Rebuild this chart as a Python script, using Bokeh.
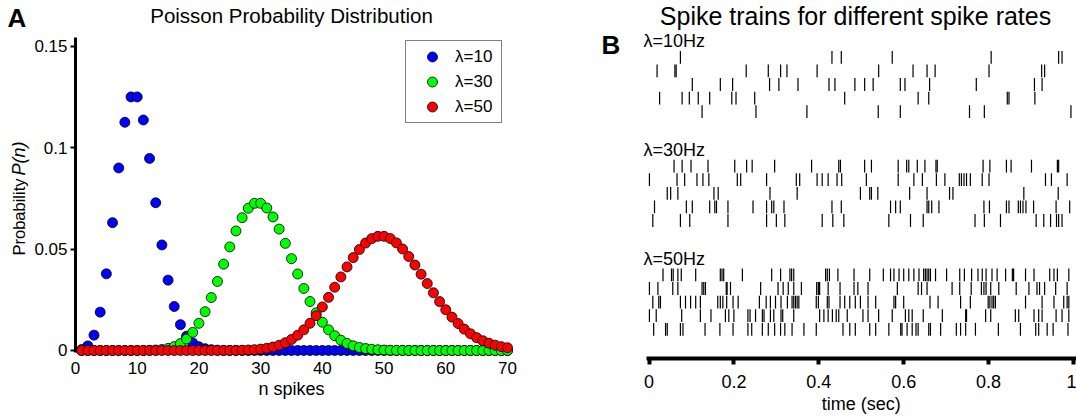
from bokeh.plotting import figure
from bokeh.models import (Range1d, FixedTicker, CustomJSTickFormatter, Label,
                          ColumnDataSource, Legend, LegendItem)
from bokeh.layouts import row
from bokeh.embed import file_html
from bokeh.resources import INLINE

FONT = "Liberation Sans"
INK = "black"

# ---------------- data: Panel A ----------------
n_spikes = list(range(1, 71))
p_lambda10 = [
    0.00045, 0.00227, 0.00757, 0.01892, 0.03783, 0.06306, 0.09008, 0.11260, 0.12511, 0.12511,
    0.11374, 0.09478, 0.07291, 0.05208, 0.03472, 0.02170, 0.01276, 0.00709, 0.00373, 0.00187,
    0.00089, 0.00040, 0.00018, 0.00007, 0.00003, 0.00001, 0.0, 0.0, 0.0, 0.0,
    0.0, 0.0, 0.0, 0.0, 0.0, 0.0, 0.0, 0.0, 0.0, 0.0,
    0.0, 0.0, 0.0, 0.0, 0.0, 0.0, 0.0, 0.0, 0.0, 0.0,
    0.0, 0.0, 0.0, 0.0, 0.0, 0.0, 0.0, 0.0, 0.0, 0.0,
    0.0, 0.0, 0.0, 0.0, 0.0, 0.0, 0.0, 0.0, 0.0, 0.0,
]
p_lambda30 = [
    0.0, 0.0, 0.0, 0.0, 0.0, 0.0, 0.0, 0.0, 0.0, 0.00002,
    0.00004, 0.00011, 0.00024, 0.00051, 0.00103, 0.00193, 0.00340, 0.00566, 0.00894, 0.01341,
    0.01916, 0.02612, 0.03407, 0.04259, 0.05111, 0.05898, 0.06553, 0.07021, 0.07263, 0.07263,
    0.07029, 0.06590, 0.05991, 0.05286, 0.04531, 0.03776, 0.03061, 0.02417, 0.01859, 0.01394,
    0.01020, 0.00729, 0.00508, 0.00347, 0.00231, 0.00151, 0.00096, 0.00060, 0.00037, 0.00022,
    0.00013, 0.00007, 0.00004, 0.00002, 0.00001, 0.0, 0.0, 0.0, 0.0, 0.0,
    0.0, 0.0, 0.0, 0.0, 0.0, 0.0, 0.0, 0.0, 0.0, 0.0,
]
p_lambda50 = [
    0.0, 0.0, 0.0, 0.0, 0.0, 0.0, 0.0, 0.0, 0.0, 0.0,
    0.0, 0.0, 0.0, 0.0, 0.0, 0.0, 0.0, 0.0, 0.0, 0.0,
    0.0, 0.0, 0.0, 0.0, 0.00004, 0.00007, 0.00013, 0.00024, 0.00041, 0.00068,
    0.00109, 0.00171, 0.00259, 0.00381, 0.00544, 0.00755, 0.01020, 0.01342, 0.01720, 0.02150,
    0.02622, 0.03122, 0.03630, 0.04125, 0.04583, 0.04981, 0.05299, 0.05520, 0.05633, 0.05633,
    0.05523, 0.05310, 0.05010, 0.04639, 0.04217, 0.03765, 0.03303, 0.02847, 0.02413, 0.02011,
    0.01648, 0.01329, 0.01055, 0.00824, 0.00634, 0.00480, 0.00358, 0.00263, 0.00191, 0.00136,
]
series_labels = ["λ=10", "λ=30", "λ=50"]
series_colors = ["#0000ff", "#00ff00", "#ff0000"]
x_ticks_A = [0, 10, 20, 30, 40, 50, 60, 70]
y_ticks_A = [0, 0.05, 0.1, 0.15]

# ---------------- data: Panel B (spike times, seconds) ----------------
rate_labels = ["λ=10Hz", "λ=30Hz", "λ=50Hz"]
spikes_10hz = [
    [0.074, 0.431, 0.453, 0.573, 0.806, 0.965, 0.973],
    [0.019, 0.061, 0.064, 0.229, 0.281, 0.310, 0.325, 0.396, 0.541, 0.622, 0.655, 0.674,
     0.801, 0.925, 0.932],
    [0.102, 0.168, 0.197, 0.284, 0.306, 0.351, 0.424, 0.438, 0.485, 0.508, 0.528, 0.592,
     0.603, 0.661, 0.771, 0.908, 0.926],
    [0.025, 0.078, 0.095, 0.116, 0.143, 0.195, 0.205, 0.249, 0.461, 0.634, 0.659, 0.844,
     0.848, 0.909],
    [0.125, 0.252, 0.372, 0.540, 0.592, 0.755, 0.790, 0.994],
]
spikes_30hz = [
    [0.059, 0.078, 0.099, 0.139, 0.202, 0.230, 0.243, 0.296, 0.383, 0.447, 0.451, 0.508,
     0.524, 0.587, 0.607, 0.612, 0.632, 0.650, 0.676, 0.679, 0.787, 0.803, 0.842, 0.853,
     0.901, 0.962, 0.965],
    [0.001, 0.066, 0.084, 0.113, 0.127, 0.141, 0.208, 0.216, 0.277, 0.347, 0.355, 0.396,
     0.408, 0.422, 0.443, 0.454, 0.512, 0.587, 0.624, 0.644, 0.677, 0.697, 0.731, 0.736,
     0.742, 0.748, 0.757, 0.785, 0.801, 0.934, 0.948, 0.985],
    [0.043, 0.051, 0.068, 0.153, 0.163, 0.285, 0.349, 0.498, 0.520, 0.524, 0.539, 0.614,
     0.655, 0.708, 0.716, 0.883, 0.964],
    [0.013, 0.088, 0.102, 0.143, 0.155, 0.159, 0.186, 0.245, 0.277, 0.289, 0.294, 0.318,
     0.431, 0.453, 0.569, 0.581, 0.592, 0.655, 0.659, 0.666, 0.683, 0.789, 0.802, 0.842,
     0.848, 0.870, 0.875, 0.881, 0.888, 0.906, 0.959, 0.991],
    [0.009, 0.074, 0.096, 0.186, 0.277, 0.300, 0.320, 0.408, 0.433, 0.459, 0.565, 0.616,
     0.646, 0.768, 0.790, 0.828, 0.912, 0.930, 0.946, 0.960, 0.965, 0.973],
]
spikes_50hz = [
    [0.033, 0.053, 0.057, 0.068, 0.076, 0.110, 0.168, 0.172, 0.176, 0.220, 0.289, 0.310,
     0.332, 0.336, 0.341, 0.416, 0.420, 0.425, 0.445, 0.483, 0.520, 0.552, 0.569, 0.577,
     0.589, 0.600, 0.612, 0.624, 0.636, 0.647, 0.651, 0.655, 0.659, 0.663, 0.675, 0.701,
     0.732, 0.743, 0.760, 0.775, 0.785, 0.794, 0.808, 0.820, 0.840, 0.856, 0.859, 0.887,
     0.907, 0.944, 0.954, 0.962, 0.989],
    [0.001, 0.021, 0.056, 0.068, 0.125, 0.129, 0.133, 0.182, 0.184, 0.192, 0.263, 0.304,
     0.316, 0.328, 0.341, 0.359, 0.395, 0.399, 0.402, 0.422, 0.450, 0.483, 0.492, 0.516,
     0.585, 0.634, 0.642, 0.655, 0.714, 0.732, 0.759, 0.783, 0.789, 0.794, 0.805, 0.824,
     0.865, 0.895, 0.914, 0.920, 0.932, 0.958, 0.985],
    [0.009, 0.023, 0.027, 0.074, 0.086, 0.098, 0.110, 0.121, 0.162, 0.168, 0.174, 0.183,
     0.198, 0.210, 0.260, 0.276, 0.286, 0.298, 0.311, 0.326, 0.337, 0.341, 0.345, 0.349,
     0.353, 0.394, 0.399, 0.420, 0.424, 0.450, 0.461, 0.473, 0.486, 0.498, 0.516, 0.534,
     0.577, 0.581, 0.600, 0.662, 0.681, 0.734, 0.757, 0.799, 0.803, 0.808, 0.812, 0.816,
     0.887, 0.926, 0.954, 0.977, 0.985, 0.989],
    [0.001, 0.017, 0.077, 0.121, 0.146, 0.180, 0.188, 0.200, 0.233, 0.238, 0.251, 0.267,
     0.271, 0.286, 0.294, 0.311, 0.315, 0.341, 0.402, 0.412, 0.422, 0.432, 0.441, 0.447,
     0.467, 0.504, 0.516, 0.541, 0.573, 0.604, 0.612, 0.620, 0.646, 0.691, 0.746, 0.748,
     0.793, 0.805, 0.863, 0.871, 0.907, 0.918, 0.926, 0.959, 0.973, 0.989],
    [0.011, 0.039, 0.043, 0.074, 0.080, 0.132, 0.167, 0.198, 0.233, 0.242, 0.267, 0.281,
     0.296, 0.310, 0.320, 0.337, 0.365, 0.394, 0.457, 0.473, 0.486, 0.520, 0.534, 0.565,
     0.593, 0.596, 0.608, 0.620, 0.629, 0.634, 0.659, 0.663, 0.687, 0.724, 0.734, 0.746,
     0.769, 0.823, 0.875, 0.911, 0.918, 0.938, 0.952, 0.987],
]
x_ticks_B = [0, 0.2, 0.4, 0.6, 0.8, 1.0]

H = 419


def text_label(x, y, text, size, align="center", style="normal", angle=0):
    return Label(x=x, y=y, text=text, text_align=align, text_baseline="middle",
                 angle=angle, angle_units="deg", text_font=FONT, text_font_size=size,
                 text_font_style=style, text_color=INK)


# ======================= Panel A =======================
# The frame fills the whole canvas; axes are pinned with fixed_location.
pA = figure(width=545, height=H, x_range=Range1d(-12.153, 76.16),
            y_range=Range1d(-0.034046, 0.172697), title=None,
            output_backend="svg", toolbar_location=None,
            min_border_left=0, min_border_right=0, min_border_top=0, min_border_bottom=0)
pA.outline_line_color = None
pA.xgrid.visible = False
pA.ygrid.visible = False
pA.background_fill_color = "white"
pA.border_fill_color = "white"

renderers = []
for vals, lab, col in zip([p_lambda10, p_lambda30, p_lambda50], series_labels, series_colors):
    src = ColumnDataSource(dict(n=n_spikes, p=vals))
    r = pA.scatter("n", "p", source=src, size=10, marker="circle", fill_color=col,
                   line_color="black", line_width=0.8)
    renderers.append((lab, r))

legend = Legend(items=[LegendItem(label=lab, renderers=[r]) for lab, r in renderers],
                location=(405, 296), margin=0, padding=3, spacing=0,
                glyph_width=46, glyph_height=25, label_height=25, label_width=43,
                label_standoff=0, label_text_font=FONT, label_text_font_size="17px",
                label_text_color=INK,
                border_line_color="black", border_line_width=1,
                background_fill_color="white", background_fill_alpha=1.0)
pA.add_layout(legend)

xa = pA.xaxis[0]
xa.fixed_location = -0.00099
xa.bounds = (0, 70)
xa.ticker = FixedTicker(ticks=x_ticks_A)
xa.axis_line_color = None
xa.major_tick_line_color = None
xa.minor_tick_line_color = None
xa.major_tick_out = 0
xa.major_tick_in = 0
xa.major_label_standoff = 9
xa.major_label_text_font = FONT
xa.major_label_text_font_size = "17px"
xa.major_label_text_color = INK

ya = pA.yaxis[0]
ya.fixed_location = 0
ya.bounds = (-0.00099, 0.15444)
ya.ticker = FixedTicker(ticks=y_ticks_A)
ya.formatter = CustomJSTickFormatter(code="return String(Math.round(tick*100)/100)")
ya.axis_line_width = 3
ya.axis_line_color = "black"
ya.major_tick_out = 5
ya.major_tick_in = 0
ya.major_tick_line_width = 2
ya.minor_tick_line_color = None
ya.major_label_standoff = 3
ya.major_label_text_font = FONT
ya.major_label_text_font_size = "17px"
ya.major_label_text_color = INK

pA.add_layout(text_label(35, -0.01875, "n spikes", "18px"))
pA.add_layout(text_label(-9.236, 0.046875, "Probability ", "16.5px", align="left", angle=90))
pA.add_layout(text_label(-9.236, 0.08634, "P(n)", "18px", align="left", style="italic", angle=90))
pA.add_layout(text_label(35, 0.16529, "Poisson Probability Distribution", "20.5px"))
pA.add_layout(text_label(-11.02, 0.16406, "A", "26px", align="left", style="bold"))

# ======================= Panel B =======================
pB = figure(width=531, height=H, x_range=Range1d(-0.24382, 1.00707),
            y_range=Range1d(27.132, -3.6765), title=None,
            output_backend="svg", toolbar_location=None,
            min_border_left=0, min_border_right=0, min_border_top=0, min_border_bottom=0)
pB.outline_line_color = None
pB.xgrid.visible = False
pB.ygrid.visible = False
pB.yaxis.visible = False
pB.background_fill_color = "white"
pB.border_fill_color = "white"

xs, y0s, y1s = [], [], []
for g, group in enumerate([spikes_10hz, spikes_30hz, spikes_50hz]):
    for k, train in enumerate(group):
        rrow = 8 * g + k
        for t in train:
            xs.append(t)
            y0s.append(rrow + 0.03)
            y1s.append(rrow + 0.97)
spk = ColumnDataSource(dict(x=xs, y0=y0s, y1=y1s))
pB.segment(x0="x", y0="y0", x1="x", y1="y1", source=spk, line_color="black", line_width=1.2)

for g, lab in enumerate(rate_labels):
    pB.add_layout(text_label(-0.013, 8 * g - 0.68, lab, "18px", align="left"))

xb = pB.xaxis[0]
xb.fixed_location = 22.647
xb.bounds = (-0.006, 1.007)
xb.ticker = FixedTicker(ticks=x_ticks_B)
xb.formatter = CustomJSTickFormatter(code="return String(Math.round(tick*10)/10)")
xb.axis_line_width = 4
xb.axis_line_color = "black"
xb.major_tick_out = 6
xb.major_tick_in = 0
xb.major_tick_line_width = 4
xb.minor_tick_line_color = None
xb.major_label_standoff = 10
xb.major_label_text_font = FONT
xb.major_label_text_font_size = "18px"
xb.major_label_text_color = INK

pB.add_layout(text_label(0.5, 25.96, "time (sec)", "18px"))
pB.add_layout(text_label(-0.1119, -0.368, "B", "26px", align="left", style="bold"))
pB.add_layout(text_label(0.4865, -2.53, "Spike trains for different spike rates", "25px"))

layout = row(pA, pB)
open("out.html", "w").write(file_html(layout, INLINE))
